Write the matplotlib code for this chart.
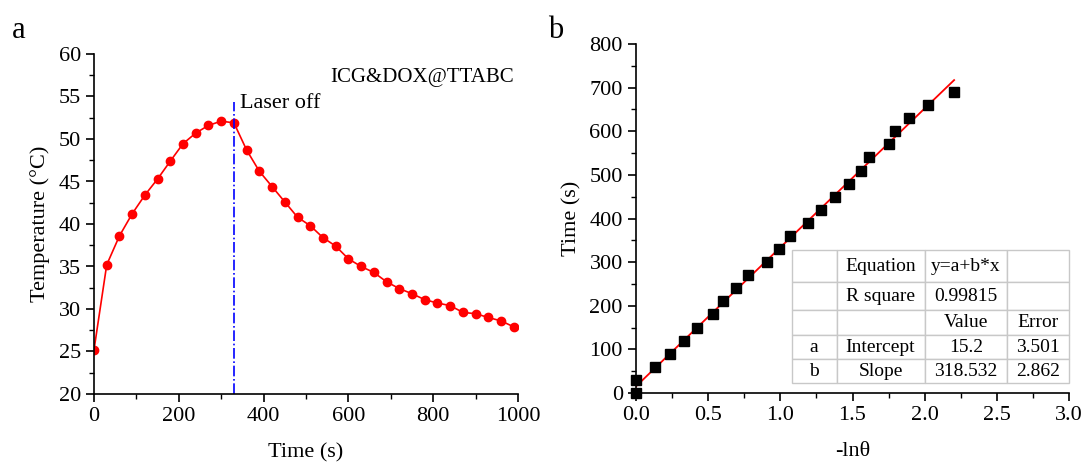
import numpy as np
import matplotlib
matplotlib.use("Agg")
import matplotlib.pyplot as plt
from matplotlib.ticker import MultipleLocator

plt.rcParams['font.family'] = ['Liberation Serif', 'DejaVu Serif']
plt.rcParams['mathtext.fontset'] = 'stix'

# panel a: photothermal heating / cooling curve
time_a = [0, 30, 60, 90, 120, 150, 180, 210, 240, 270, 300, 330,
          360, 390, 420, 450, 480, 510, 540, 570, 600, 630, 660, 690,
          720, 750, 780, 810, 840, 870, 900, 930, 960, 990]
temp_a = [25.2, 35.2, 38.6, 41.2, 43.4, 45.3, 47.4, 49.45, 50.7, 51.6, 52.1, 51.9,
          48.7, 46.2, 44.4, 42.6, 40.8, 39.8, 38.4, 37.4, 35.9, 35.0, 34.3, 33.2,
          32.4, 31.8, 31.1, 30.7, 30.4, 29.6, 29.45, 29.0, 28.6, 27.9]
laser_off = 330

# panel b: cooling time vs -ln(theta)
lntheta = [0.0, 0.0, 0.132, 0.239, 0.330, 0.426, 0.534, 0.601, 0.696, 0.775, 0.905, 0.993,
           1.067, 1.190, 1.283, 1.381, 1.473, 1.561, 1.613, 1.752, 1.794, 1.891, 2.023, 2.204]
time_b = [0, 30, 60, 90, 120, 150, 180, 210, 240, 270, 300, 330,
          360, 390, 420, 450, 480, 510, 540, 570, 600, 630, 660, 690]
fit_a = 15.2
fit_b = 318.532

table_rows = [["", "Equation", "y=a+b*x", ""],
              ["", "R square", "0.99815", ""],
              ["", "", "Value", "Error"],
              ["a", "Intercept", "15.2", "3.501"],
              ["b", "Slope", "318.532", "2.862"]]

fig = plt.figure(figsize=(10.87, 4.65), dpi=100)
fs = 16

def style_axis(ax):
    for s in ['top', 'right']:
        ax.spines[s].set_visible(False)
    for s in ['left', 'bottom']:
        ax.spines[s].set_linewidth(1.2)
    ax.tick_params(which='major', direction='out', length=6, width=1.2, labelsize=fs)
    ax.tick_params(which='minor', direction='out', length=3.5, width=1.0)

# ---- panel a ----
ax1 = fig.add_axes([94/1087, 71/465, 424/1087, 340/465])
ax1.plot(time_a, temp_a, color='red', lw=1.2, marker='o', ms=6)
ax1.plot([laser_off, laser_off], [20, 54.3], color='blue', lw=1.2, ls='-.')
ax1.text(laser_off + 15, 54.2, "Laser off", fontsize=fs, va='center', ha='left')
ax1.text(990, 57.2, "ICG&DOX@TTABC", fontsize=15, va='center', ha='right')
ax1.set_xlim(0, 1000)
ax1.set_ylim(20, 60)
ax1.xaxis.set_major_locator(MultipleLocator(200))
ax1.xaxis.set_minor_locator(MultipleLocator(100))
ax1.yaxis.set_major_locator(MultipleLocator(5))
ax1.yaxis.set_minor_locator(MultipleLocator(2.5))
ax1.set_xlabel("Time (s)", fontsize=fs, labelpad=12)
ax1.set_ylabel("Temperature (°C)", fontsize=fs, labelpad=6)
style_axis(ax1)

# ---- panel b ----
ax2 = fig.add_axes([636/1087, 72/465, 433/1087, 349/465])
xfit = np.array([0, max(lntheta)])
ax2.plot(xfit, fit_a + fit_b * xfit, color='red', lw=1.3, zorder=2)
ax2.plot(lntheta, time_b, ls='none', marker='s', color='black', ms=6.5, zorder=3, clip_on=False)
ax2.set_xlim(0, 3.0)
ax2.set_ylim(0, 800)
ax2.xaxis.set_major_locator(MultipleLocator(0.5))
ax2.xaxis.set_minor_locator(MultipleLocator(0.25))
ax2.yaxis.set_major_locator(MultipleLocator(100))
ax2.yaxis.set_minor_locator(MultipleLocator(50))
ax2.set_xlabel("-ln\u03b8", fontsize=fs, labelpad=12)
ax2.set_ylabel("Time (s)", fontsize=fs, labelpad=6)
style_axis(ax2)

tbl = ax2.table(cellText=table_rows, cellLoc='center',
                colWidths=[45, 88, 83, 62],
                bbox=[(791.7 - 636) / 433, (393 - 383.3) / 349, (1069.3 - 791.7) / 433, (383.3 - 250) / 349])
tbl.auto_set_font_size(False)
tbl.set_fontsize(14)
row_h = [32, 28, 25, 24, 24]
for (r, c), cell in tbl.get_celld().items():
    cell.set_edgecolor('#c8c8c8')
    cell.set_linewidth(1.0)
    cell.set_height(row_h[r])
    cell.set_facecolor('white')

fig.text(12/1087, 1 - 30/465, "a", fontsize=22, va='center', ha='left')
fig.text(548/1087, 1 - 30/465, "b", fontsize=22, va='center', ha='left')

fig.savefig("out.png", dpi=100)
